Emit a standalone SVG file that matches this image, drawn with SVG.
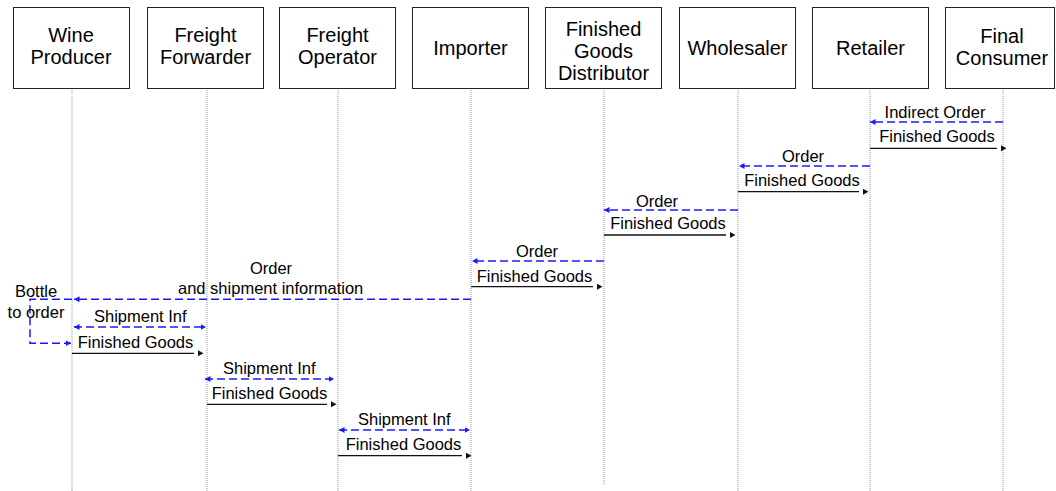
<svg xmlns="http://www.w3.org/2000/svg" width="1056" height="491" viewBox="0 0 1056 491">
<style>
.box{fill:#fff;stroke:#222;stroke-width:1}
.life{stroke:#999;stroke-width:1;stroke-dasharray:1,1;fill:none}
.nt{font-family:"Liberation Sans",Arial,sans-serif;font-size:20px;fill:#000;text-anchor:middle}
.ml{font-family:"Liberation Sans",Arial,sans-serif;font-size:16.5px;fill:#000}
.mid{text-anchor:middle}
.sol{stroke:#111;stroke-width:1.3;fill:none;marker-end:url(#bk)}
.dsh{stroke:#1a1aff;stroke-width:1.5;stroke-dasharray:8,4;fill:none;marker-end:url(#bl)}
.dbl{marker-start:url(#bl)}
</style>
<defs>
<marker id="bl" markerUnits="userSpaceOnUse" markerWidth="7" markerHeight="7" refX="5.5" refY="3" orient="auto-start-reverse"><path d="M0,0 L5.5,3 L0,6 z" fill="#1a1aff"/></marker>
<marker id="bk" markerUnits="userSpaceOnUse" markerWidth="7" markerHeight="7" refX="-4" refY="3" orient="auto"><path d="M0,0 L5.5,3 L0,6 z" fill="#111"/></marker>
</defs>
<rect width="1056" height="491" fill="#fff"/>
<g id="lifelines">
<line class="life" x1="72" y1="88" x2="72" y2="491"/>
<line class="life" x1="207" y1="88" x2="207" y2="491"/>
<line class="life" x1="338" y1="88" x2="338" y2="491"/>
<line class="life" x1="471" y1="88" x2="471" y2="491"/>
<line class="life" x1="604" y1="88" x2="604" y2="486"/>
<line class="life" x1="738" y1="88" x2="738" y2="491"/>
<line class="life" x1="870" y1="88" x2="870" y2="491"/>
<line class="life" x1="1003" y1="88" x2="1003" y2="491"/>
</g>
<g id="wine-producer"><rect class="box" x="13.5" y="7.5" width="116" height="81"/><text class="nt" x="71" y="42">Wine</text><text class="nt" x="71" y="64">Producer</text></g>
<g id="freight-forwarder"><rect class="box" x="147.5" y="7.5" width="116" height="81"/><text class="nt" x="205.5" y="42">Freight</text><text class="nt" x="205.5" y="64">Forwarder</text></g>
<g id="freight-operator"><rect class="box" x="279.5" y="7.5" width="116" height="81"/><text class="nt" x="337.5" y="42">Freight</text><text class="nt" x="337.5" y="64">Operator</text></g>
<g id="importer"><rect class="box" x="412.5" y="7.5" width="116" height="81"/><text class="nt" x="470.5" y="55">Importer</text></g>
<g id="finished-goods-distributor"><rect class="box" x="545.5" y="7.5" width="116" height="81"/><text class="nt" x="603.5" y="36">Finished</text><text class="nt" x="603.5" y="58">Goods</text><text class="nt" x="603.5" y="80">Distributor</text></g>
<g id="wholesaler"><rect class="box" x="679.5" y="7.5" width="116" height="81"/><text class="nt" x="737.5" y="55">Wholesaler</text></g>
<g id="retailer"><rect class="box" x="812.5" y="7.5" width="116" height="81"/><text class="nt" x="870.5" y="55">Retailer</text></g>
<g id="final-consumer"><rect class="box" x="945.5" y="7.5" width="109" height="81"/><text class="nt" x="1002" y="43">Final</text><text class="nt" x="1002" y="65">Consumer</text></g>
<g id="connectors">
<line class="dsh" x1="1003" y1="122" x2="870" y2="122"/>
<line class="sol" x1="870" y1="148.3" x2="997" y2="148.3"/>
<line class="dsh" x1="870" y1="166" x2="739" y2="166"/>
<line class="sol" x1="738" y1="191.7" x2="859" y2="191.7"/>
<line class="dsh" x1="738" y1="210" x2="604" y2="210"/>
<line class="sol" x1="604" y1="235" x2="726" y2="235"/>
<line class="dsh" x1="604" y1="261" x2="472" y2="261"/>
<line class="sol" x1="471" y1="286.7" x2="593" y2="286.7"/>
<line class="dsh" x1="471" y1="299.3" x2="74" y2="299.3"/>
<path class="dsh" d="M72,299.3 H30 V343.3 H71"/>
<line class="dsh dbl" x1="74" y1="327" x2="206" y2="327"/>
<line class="sol" x1="72" y1="353.3" x2="194" y2="353.3"/>
<line class="dsh dbl" x1="205" y1="379" x2="334" y2="379"/>
<line class="sol" x1="207" y1="404.3" x2="327" y2="404.3"/>
<line class="dsh dbl" x1="339" y1="430" x2="470" y2="430"/>
<line class="sol" x1="338" y1="455.7" x2="462" y2="455.7"/>
</g>
<g id="labels">
<text class="ml mid" x="935" y="118.3">Indirect Order</text>
<text class="ml mid" x="937" y="142.3">Finished Goods</text>
<text class="ml mid" x="803" y="161.7">Order</text>
<text class="ml mid" x="802" y="185.7">Finished Goods</text>
<text class="ml mid" x="657" y="206.5">Order</text>
<text class="ml mid" x="668" y="229.3">Finished Goods</text>
<text class="ml mid" x="537" y="256.5">Order</text>
<text class="ml mid" x="534.5" y="281.7">Finished Goods</text>
<text class="ml mid" x="271" y="274">Order</text>
<text class="ml" x="178" y="294.3">and shipment information</text>
<text class="ml mid" x="36" y="296.7">Bottle</text>
<text class="ml mid" x="36" y="317.7">to order</text>
<text class="ml" x="94" y="321.7">Shipment Inf</text>
<text class="ml mid" x="135.5" y="348.3">Finished Goods</text>
<text class="ml" x="223" y="374">Shipment Inf</text>
<text class="ml mid" x="269.5" y="399.3">Finished Goods</text>
<text class="ml" x="358" y="425">Shipment Inf</text>
<text class="ml mid" x="403.5" y="450">Finished Goods</text>
</g>
</svg>
